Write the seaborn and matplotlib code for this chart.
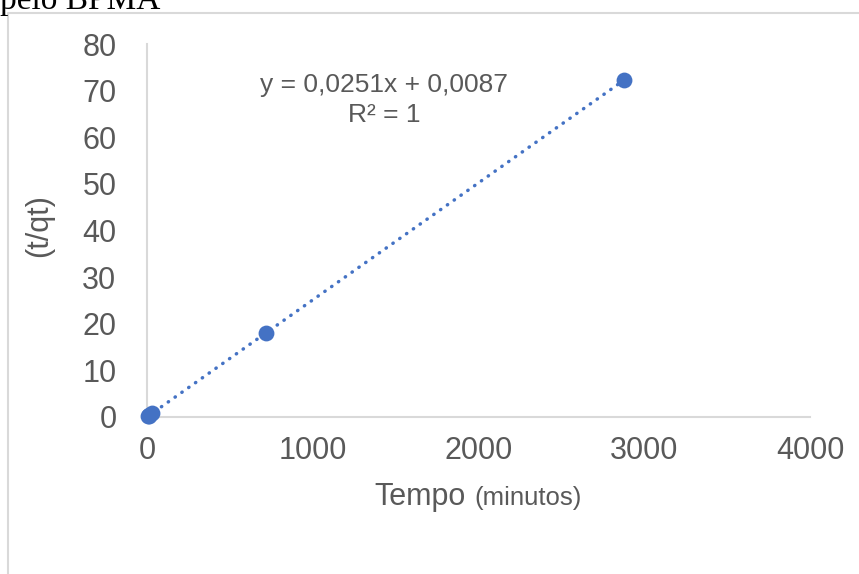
import matplotlib
matplotlib.use("Agg")
import matplotlib.pyplot as plt
from matplotlib.lines import Line2D
from matplotlib.offsetbox import TextArea, HPacker, AnnotationBbox
import numpy as np
import pandas as pd
import seaborn as sns

# Pseudo-second-order kinetics: t/qt versus contact time
tempo_min = [5, 10, 15, 30, 720, 2880]
t_sobre_qt = [0.14, 0.26, 0.39, 0.76, 18.1, 72.3]
eq_texto = "y = 0,0251x + 0,0087"
r2_texto = "R² = 1"
x_ticks = [0, 1000, 2000, 3000, 4000]
y_ticks = [0, 10, 20, 30, 40, 50, 60, 70, 80]

df = pd.DataFrame({"tempo": tempo_min, "tqt": t_sobre_qt})

sns.set_theme(style="white")
plt.rcParams["font.family"] = ["Liberation Sans", "DejaVu Sans"]

azul = "#4472C4"
cinza_txt = "#595959"
cinza_eixo = "#D9D9D9"

W, H = 859, 574
fig = plt.figure(figsize=(W / 100, H / 100), dpi=100)
ax = fig.add_axes([147 / W, 1 - 417 / H, (810 - 147) / W, (417 - 44) / H])

# dotted linear trendline
sns.regplot(data=df, x="tempo", y="tqt", ax=ax, scatter=False, ci=None,
            line_kws=dict(color=azul, lw=2.5, linestyle=(0, (0.1, 2.3)),
                          dash_capstyle="round", solid_capstyle="round"))
sns.scatterplot(data=df, x="tempo", y="tqt", ax=ax, color=azul, s=130,
                edgecolor=azul, linewidth=0, zorder=3, clip_on=False)

ax.set_xlim(0, 4000)
ax.set_ylim(0, 80)
ax.set_xticks(x_ticks)
ax.set_yticks(y_ticks)
ax.tick_params(axis="both", length=0, labelsize=22, labelcolor=cinza_txt)
ax.tick_params(axis="x", pad=14)
ax.tick_params(axis="y", pad=22)
for s in ["top", "right"]:
    ax.spines[s].set_visible(False)
for s in ["left", "bottom"]:
    ax.spines[s].set_color(cinza_eixo)
    ax.spines[s].set_linewidth(1.5)
ax.set_xlabel("")
ax.set_ylabel("(t/qt)", fontsize=22, color=cinza_txt)
ax.yaxis.set_label_coords(54 / W, 1 - 226 / H, transform=fig.transFigure)

# axis title with two font sizes
rotulo = HPacker(children=[
    TextArea("Tempo", textprops=dict(fontsize=22, color=cinza_txt)),
    TextArea("(minutos)", textprops=dict(fontsize=18.5, color=cinza_txt)),
], align="baseline", pad=0, sep=6)
ab = AnnotationBbox(rotulo, (478 / W, 1 - 497 / H), xycoords="figure fraction",
                    frameon=False, box_alignment=(0.5, 0.5))
fig.add_artist(ab)

# trendline equation
ax.text(384 / W, 1 - 85 / H, eq_texto, transform=fig.transFigure,
        ha="center", va="center", fontsize=19, color=cinza_txt)
ax.text(384 / W, 1 - 115 / H, r2_texto, transform=fig.transFigure,
        ha="center", va="center", fontsize=19, color=cinza_txt)

# chart area border
fig.add_artist(Line2D([8 / W, 8 / W, 1], [0, 1 - 13 / H, 1 - 13 / H],
                      transform=fig.transFigure, color=cinza_eixo, lw=1.5))

# caption text above the chart
fig.text(0 / W, 1 - 9 / H, "pelo BPMA", ha="left", va="baseline",
         fontsize=24, color="black", family=["Liberation Serif", "DejaVu Serif"])

fig.savefig("out.png", dpi=100)
